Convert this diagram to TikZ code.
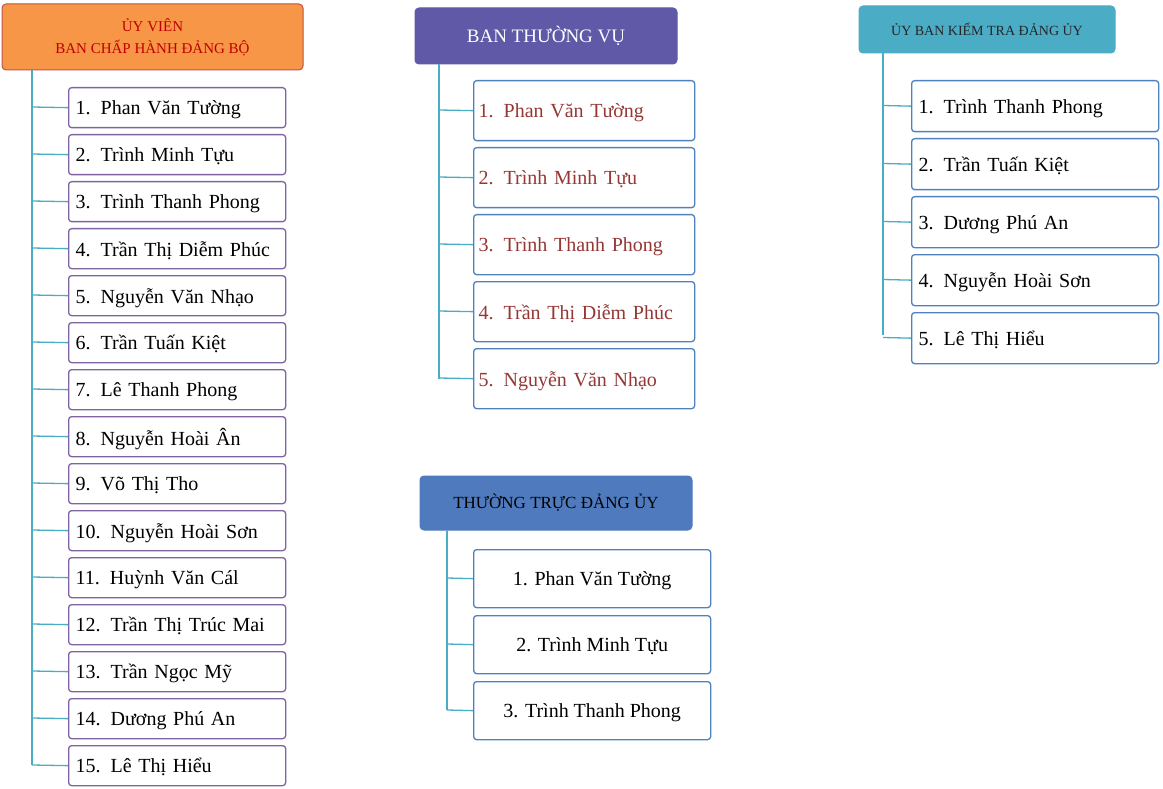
\documentclass[tikz,border=0pt]{standalone}
\usepackage{fontspec}
\setmainfont{Liberation Serif}
\usetikzlibrary{positioning}
\definecolor{tealln}{HTML}{4BACC6}
\definecolor{purpbd}{HTML}{8064A2}
\definecolor{bluebd}{HTML}{4F81BD}
\definecolor{orangef}{HTML}{F79646}
\definecolor{redbd}{HTML}{C0504D}
\definecolor{redtx}{HTML}{C00000}
\definecolor{btvf}{HTML}{6059A8}
\definecolor{ttf}{HTML}{4F7BBE}
\definecolor{namered}{HTML}{953735}
\tikzset{
  head/.style={draw, rounded corners=4pt, line width=1pt, align=center, inner sep=0pt},
  item/.style={draw, rounded corners=3pt, line width=1.3pt, fill=white, anchor=north west,
    inner sep=0pt, font=\fontsize{20}{22}\selectfont, text depth=0pt},
  link/.style={tealln, line width=1.3pt}
}
\begin{document}
\begin{tikzpicture}[x=1pt,y=-1pt]
\useasboundingbox (0,0) rectangle (1163,789);
% cot trai
\node[head, fill=orangef, draw=redbd, text=redtx, minimum width=301pt, minimum height=66pt,
  font=\fontsize{15}{22}\selectfont] (uv) at (152.5,37) {ỦY VIÊN\\BAN CHẤP HÀNH ĐẢNG BỘ};
\foreach \t [count=\i] in {Phan Văn Tường, Trình Minh Tựu, Trình Thanh Phong, Trần Thị Diễm Phúc,
  Nguyễn Văn Nhạo, Trần Tuấn Kiệt, Lê Thanh Phong, Nguyễn Hoài Ân, Võ Thị Tho, Nguyễn Hoài Sơn,
  Huỳnh Văn Cál, Trần Thị Trúc Mai, Trần Ngọc Mỹ, Dương Phú An, Lê Thị Hiểu}{
  \node[item, draw=purpbd, minimum width=217pt, minimum height=40pt, text width=211pt,
    align=left] (uv\i) at (68,{87+47*(\i-1)}) {\hspace*{4pt}\i. \t};
  \draw[link] (32,{107+47*(\i-1)}) -- (uv\i.west);
}
\draw[link] (uv.south -| 32,0) -- (32,765);
% ban thuong vu
\node[head, fill=btvf, draw=btvf, text=white, minimum width=262pt, minimum height=56pt,
  font=\fontsize{19}{22}\selectfont] (btv) at (546,36) {BAN THƯỜNG VỤ};
\foreach \t [count=\i] in {Phan Văn Tường, Trình Minh Tựu, Trình Thanh Phong, Trần Thị Diễm Phúc,
  Nguyễn Văn Nhạo}{
  \node[item, draw=bluebd, text=namered, minimum width=221pt, minimum height=60pt, text width=215pt,
    align=left] (btv\i) at (473,{80+67*(\i-1)}) {\hspace*{2pt}\i. \t};
  \draw[link] (439,{110+67*(\i-1)}) -- (btv\i.west);
}
\draw[link] (btv.south -| 439,0) -- (439,379);
% thuong truc
\node[head, fill=ttf, draw=ttf, minimum width=272pt, minimum height=54pt,
  font=\fontsize{17}{22}\selectfont] (tt) at (556,503) {THƯỜNG TRỰC ĐẢNG ỦY};
\foreach \t [count=\i] in {Phan Văn Tường, Trình Minh Tựu, Trình Thanh Phong}{
  \node[item, draw=bluebd, minimum width=237pt, minimum height=58pt, align=center]
    (tt\i) at (473,{549+66*(\i-1)}) {\i. \t};
  \draw[link] (447,{578+66*(\i-1)}) -- (tt\i.west);
}
\draw[link] (tt.south -| 447,0) -- (447,710);
% uy ban kiem tra
\node[head, fill=tealln, draw=tealln, text=black!85, minimum width=256pt, minimum height=47pt,
  font=\fontsize{14}{22}\selectfont] (kt) at (987,29.5) {ỦY BAN KIỂM TRA ĐẢNG ỦY};
\foreach \t [count=\i] in {Trình Thanh Phong, Trần Tuấn Kiệt, Dương Phú An, Nguyễn Hoài Sơn,
  Lê Thị Hiểu}{
  \node[item, draw=bluebd, minimum width=247pt, minimum height=51pt, text width=241pt,
    align=left] (kt\i) at (911,{80+58*(\i-1)}) {\hspace*{4pt}\i. \t};
  \draw[link] (883,{105.5+58*(\i-1)}) -- (kt\i.west);
}
\draw[link] (kt.south -| 883,0) -- (883,335);
\end{tikzpicture}
\end{document}
